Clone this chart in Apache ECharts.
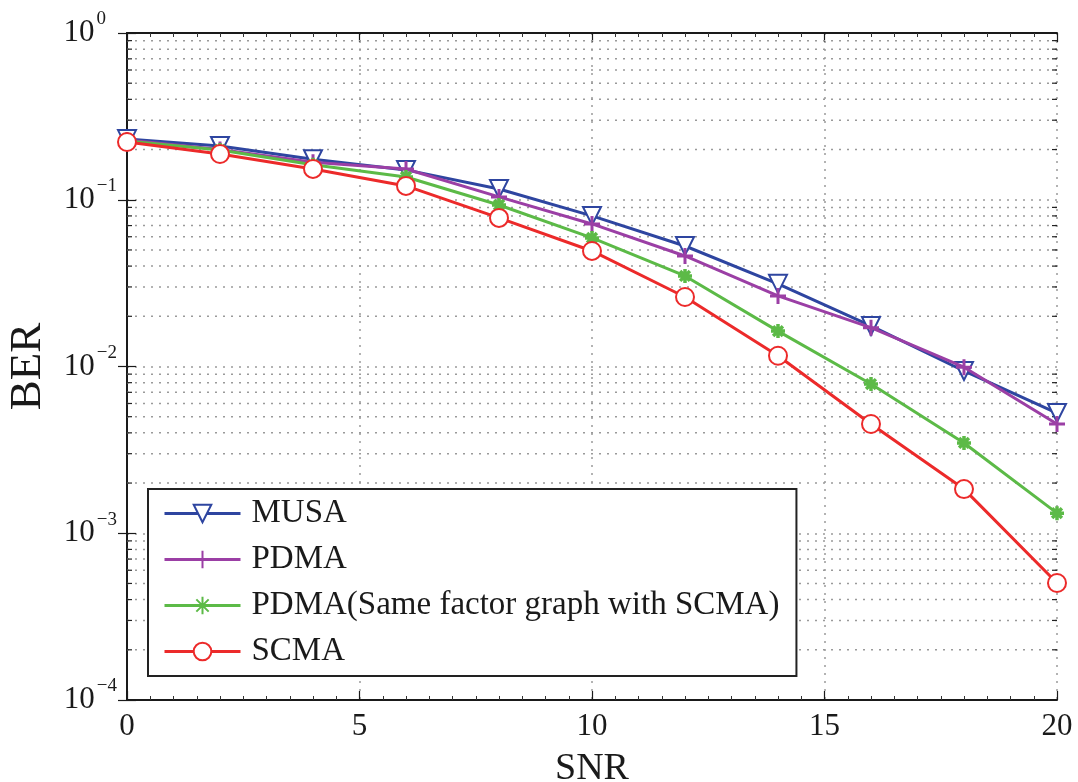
<!DOCTYPE html>
<html>
<head>
<meta charset="utf-8">
<script src="https://cdn.jsdelivr.net/npm/echarts@6/dist/echarts.min.js"></script>
<style>html,body{margin:0;padding:0;background:#fff;}#c{width:1078px;height:782px;}</style>
</head>
<body>
<div id="c"></div>
<script>
const snr = [0, 2, 4, 6, 8, 10, 12, 14, 16, 18, 20];
const musa = [0.231, 0.210, 0.175, 0.151, 0.116, 0.080, 0.0528, 0.0313, 0.0175, 0.0094, 0.00526];
const pdma = [0.228, 0.200, 0.168, 0.153, 0.104, 0.0716, 0.046, 0.0265, 0.0171, 0.0099, 0.00452];
const pdmaSame = [0.225, 0.199, 0.162, 0.137, 0.093, 0.059, 0.0349, 0.0163, 0.00785, 0.00348, 0.00132];
const scma = [0.222, 0.188, 0.153, 0.121, 0.0778, 0.0493, 0.0261, 0.0116, 0.00452, 0.00184, 0.000503];
const seriesNames = ['MUSA', 'PDMA', 'PDMA(Same factor graph with SCMA)', 'SCMA'];
const decades = [1e-4, 1e-3, 1e-2, 1e-1];
const minorMultipliers = [2, 3, 4, 5, 6, 7, 8, 9];
const minorValues = [];
decades.forEach(d => minorMultipliers.forEach(m => minorValues.push(+(d * m).toPrecision(3))));

const FONT = 'Liberation Serif';
const pairs = arr => snr.map((x, i) => [x, arr[i]]);

const chart = echarts.init(document.getElementById('c'), null, {renderer: 'canvas'});

function supLabel(v) {
  const e = Math.round(Math.log10(v));
  if (e < 0) return '{b|10}{s|\u2212' + (-e) + '}';
  return '{b|10}{p|' + e + '}';
}

const plusPath = 'path://M0,5L10,5M5,0L5,10';
const starPath = 'path://M0,5L10,5M5,0L5,10M1.5,1.5L8.5,8.5M1.5,8.5L8.5,1.5';

const gridSeries = {
  type: 'custom',
  name: 'minor',
  silent: true,
  z: 1,
  data: minorValues.map(v => [0, v]),
  renderItem: function (params, api) {
    const y = api.coord([0, api.value(1)])[1];
    const cs = params.coordSys;
    const x0 = cs.x, x1 = cs.x + cs.width;
    return {
      type: 'group',
      children: [
        {type: 'line', shape: {x1: x0, y1: y, x2: x1, y2: y},
         style: {stroke: '#9a9a9a', lineWidth: 1.5, lineDash: [2, 6]}},
        {type: 'line', shape: {x1: x0, y1: y, x2: x0 + 5, y2: y},
         style: {stroke: '#222', lineWidth: 1.2}},
        {type: 'line', shape: {x1: x1, y1: y, x2: x1 - 5, y2: y},
         style: {stroke: '#222', lineWidth: 1.2}}
      ]
    };
  }
};

const supBase = {fontFamily: FONT, fontSize: 19, color: '#1a1a1a', lineHeight: 46, verticalAlign: 'top'};

const option = {
  backgroundColor: '#fff',
  animation: false,
  grid: {left: 127, right: 21, top: 33, bottom: 82, containLabel: false, outerBoundsMode: 'none'},
  xAxis: [{
    type: 'value', min: 0, max: 20, interval: 5,
    name: 'SNR', nameLocation: 'middle', nameGap: 50,
    nameTextStyle: {fontFamily: FONT, fontSize: 38, color: '#1a1a1a'},
    axisLine: {lineStyle: {color: '#1a1a1a', width: 2}},
    axisTick: {inside: true, length: 9, lineStyle: {color: '#1a1a1a', width: 1.2}},
    minorTick: {show: true, splitNumber: 10, length: 4, lineStyle: {color: '#333', width: 1}},
    axisLabel: {fontFamily: FONT, fontSize: 31, color: '#1a1a1a', margin: 11},
    splitLine: {show: true, lineStyle: {color: '#9a9a9a', width: 1.5, type: [2, 6]}}
  }, {
    type: 'value', min: 0, max: 20, interval: 5, position: 'top',
    axisLine: {show: true, lineStyle: {color: '#1a1a1a', width: 2}},
    axisTick: {inside: true, length: 9, lineStyle: {color: '#1a1a1a', width: 1.2}},
    minorTick: {show: true, splitNumber: 10, length: 4, lineStyle: {color: '#333', width: 1}},
    axisLabel: {show: false}, splitLine: {show: false}
  }],
  yAxis: [{
    type: 'log', logBase: 10, min: 1e-4, max: 1,
    name: 'BER', nameLocation: 'middle', nameGap: 76, nameRotate: 90,
    nameTextStyle: {fontFamily: FONT, fontSize: 45, color: '#1a1a1a'},
    axisLine: {lineStyle: {color: '#1a1a1a', width: 2}},
    axisTick: {inside: true, length: 9, lineStyle: {color: '#1a1a1a', width: 1.2}},
    axisLabel: {
      margin: 10, formatter: supLabel,
      rich: {
        b: {fontFamily: FONT, fontSize: 31, color: '#1a1a1a', lineHeight: 46, verticalAlign: 'middle'},
        s: Object.assign({padding: [0, 0, 0, 2]}, supBase),
        p: Object.assign({padding: [0, 11, 0, 2]}, supBase)
      }
    },
    splitLine: {show: true, lineStyle: {color: '#9a9a9a', width: 1.5, type: [2, 6]}}
  }, {
    type: 'log', logBase: 10, min: 1e-4, max: 1, position: 'right',
    axisLine: {show: true, lineStyle: {color: '#1a1a1a', width: 2}},
    axisTick: {inside: true, length: 9, lineStyle: {color: '#1a1a1a', width: 1.2}},
    axisLabel: {show: false}, splitLine: {show: false}
  }],
  legend: {
    data: seriesNames,
    orient: 'vertical', left: 148, top: 489,
    backgroundColor: '#fff', borderColor: '#222', borderWidth: 2,
    padding: [8, 17, 8, 15],
    itemWidth: 76, itemHeight: 22, itemGap: 13,
    lineStyle: {width: 3},
    textStyle: {fontFamily: FONT, fontSize: 33, color: '#1a1a1a', padding: [0, 0, 0, 6]}
  },
  series: [
    gridSeries,
    {
      name: seriesNames[0], type: 'line', data: pairs(musa), z: 5,
      symbol: 'emptyTriangle', symbolRotate: 180, symbolSize: 18,
      lineStyle: {color: '#2e45a0', width: 3},
      itemStyle: {color: '#2e45a0', borderWidth: 2.5}
    },
    {
      name: seriesNames[1], type: 'line', data: pairs(pdma), z: 6,
      symbol: plusPath, symbolSize: 16,
      lineStyle: {color: '#9b3fa5', width: 3},
      itemStyle: {color: '#9b3fa5', borderColor: '#9b3fa5', borderWidth: 3}
    },
    {
      name: seriesNames[2], type: 'line', data: pairs(pdmaSame), z: 7,
      symbol: starPath, symbolSize: 14,
      lineStyle: {color: '#5cba47', width: 3},
      itemStyle: {color: '#5cba47', borderColor: '#5cba47', borderWidth: 3.5}
    },
    {
      name: seriesNames[3], type: 'line', data: pairs(scma), z: 8,
      symbol: 'emptyCircle', symbolSize: 18,
      lineStyle: {color: '#ec2a2a', width: 3},
      itemStyle: {color: '#ec2a2a', borderWidth: 2.5}
    }
  ]
};
chart.setOption(option);
</script>
</body>
</html>
